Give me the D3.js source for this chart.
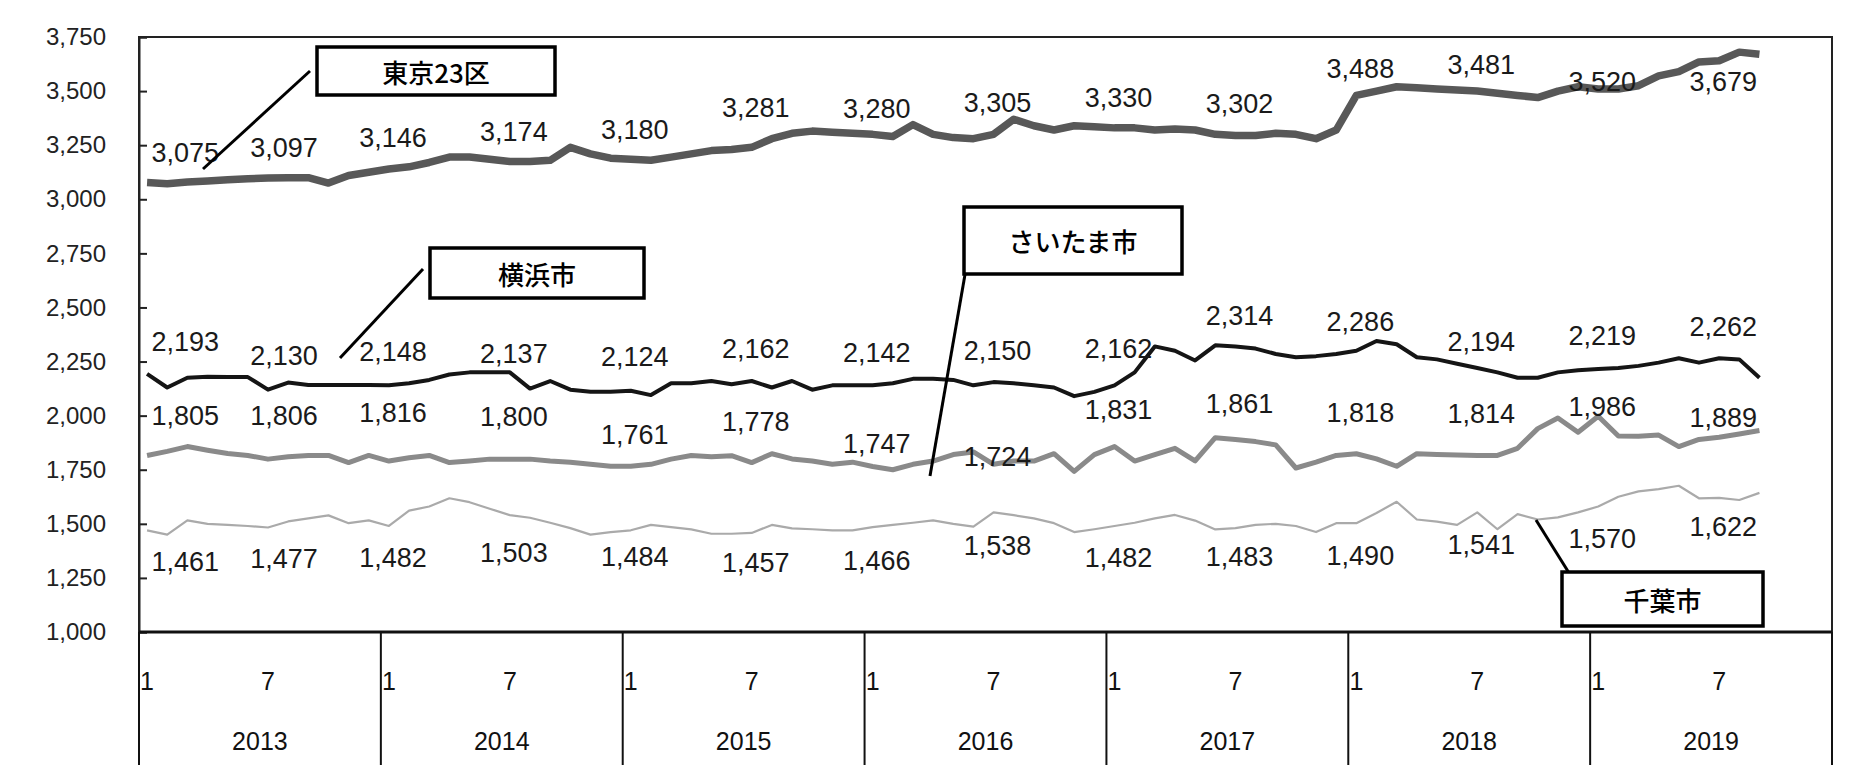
<!DOCTYPE html>
<html><head><meta charset="utf-8">
<script src="https://cdn.jsdelivr.net/npm/d3@7"></script>
<style>body{margin:0;background:#fff}svg{font-family:Arial,"Liberation Sans","Noto Sans CJK JP",sans-serif}</style>
</head><body><svg id="c" width="1853" height="782"></svg>
<script>
const years = ["2013","2014","2015","2016","2017","2018","2019"];
const monthTicks = ["1","7"];
const yTicks = [1000,1250,1500,1750,2000,2250,2500,2750,3000,3250,3500,3750];
const tokyo = [3077,3072,3080,3085,3090,3095,3098,3100,3100,3075,3110,3125,
 3140,3150,3170,3195,3195,3185,3175,3175,3180,3240,3210,3190,
 3185,3180,3195,3210,3225,3230,3240,3280,3305,3315,3310,3305,
 3300,3290,3345,3300,3285,3280,3300,3370,3340,3320,3340,3335,
 3330,3330,3320,3325,3320,3300,3295,3295,3305,3300,3280,3320,
 3480,3500,3520,3515,3510,3505,3500,3490,3480,3470,3500,3520,
 3510,3510,3525,3570,3590,3635,3640,3680,3670];
const yokohama = [2193,2130,2175,2180,2178,2178,2120,2153,2142,2142,2142,2142,
 2140,2150,2165,2190,2200,2200,2200,2125,2160,2120,2110,2110,
 2115,2095,2150,2150,2160,2145,2160,2130,2160,2120,2140,2140,
 2140,2150,2170,2170,2165,2140,2155,2150,2140,2130,2090,2110,
 2140,2200,2320,2300,2255,2325,2320,2310,2285,2270,2275,2285,
 2300,2345,2330,2270,2260,2240,2220,2200,2175,2175,2200,2210,
 2215,2220,2230,2245,2265,2245,2265,2260,2175];
const saitama = [1816,1835,1857,1840,1825,1816,1799,1810,1816,1816,1783,1816,
 1790,1805,1816,1783,1790,1799,1799,1799,1790,1785,1775,1766,
 1766,1775,1799,1816,1810,1815,1783,1824,1800,1790,1775,1785,
 1765,1750,1775,1790,1820,1832,1775,1790,1790,1824,1742,1820,
 1857,1790,1820,1849,1791,1898,1890,1880,1865,1758,1785,1816,
 1824,1800,1766,1824,1820,1818,1816,1816,1849,1940,1989,1923,
 1997,1906,1905,1910,1857,1890,1900,1915,1931];
const chiba = [1470,1450,1516,1500,1495,1490,1483,1511,1525,1539,1503,1516,
 1490,1561,1580,1618,1600,1570,1540,1528,1505,1480,1450,1462,
 1470,1495,1485,1474,1454,1454,1458,1495,1479,1475,1470,1470,
 1485,1495,1505,1516,1500,1487,1553,1540,1525,1503,1462,1475,
 1490,1505,1525,1541,1515,1474,1480,1495,1500,1490,1462,1503,
 1503,1550,1602,1520,1510,1495,1553,1475,1545,1520,1530,1553,
 1580,1625,1650,1660,1676,1618,1620,1610,1643];
const tokyoLabels = [3075,3097,3146,3174,3180,3281,3280,3305,3330,3302,3488,3481,3520,3679];
const yokohamaLabels = [2193,2130,2148,2137,2124,2162,2142,2150,2162,2314,2286,2194,2219,2262];
const saitamaLabels = [1805,1806,1816,1800,1761,1778,1747,1724,1831,1861,1818,1814,1986,1889];
const chibaLabels = [1461,1477,1482,1503,1484,1457,1466,1538,1482,1483,1490,1541,1570,1622];
const seriesNames = ["東京23区","横浜市","さいたま市","千葉市"];

const svg = d3.select("#c");
const L=139,R=1832,T=37,B=632,XB=765;
const x = d3.scaleLinear().domain([0,84]).range([L,R]);
const y = d3.scaleLinear().domain([1000,3750]).range([B,T]);
const fmt = d3.format(",");

svg.append("rect").attr("x",L).attr("y",T).attr("width",R-L).attr("height",B-T).attr("fill","none").attr("stroke","#222").attr("stroke-width",2);
const ya = svg.append("g").attr("transform",`translate(${L},0)`).call(d3.axisRight(y).tickValues(yTicks).tickSize(8).tickFormat(fmt));
ya.select(".domain").attr("stroke","#222").attr("stroke-width",2);
ya.selectAll("line").attr("stroke","#222").attr("stroke-width",2);
ya.selectAll("text").attr("x",-33).attr("text-anchor","end").attr("font-size",24).attr("fill","#222").attr("font-family","Arial, Liberation Sans");
svg.append("line").attr("x1",L).attr("x2",R).attr("y1",B).attr("y2",B).attr("stroke","#111").attr("stroke-width",3);
d3.range(years.length+1).forEach(k=>{
  svg.append("line").attr("x1",x(k*12)).attr("x2",x(k*12)).attr("y1",B).attr("y2",XB).attr("stroke","#111").attr("stroke-width",2);
});
years.forEach((yr,k)=>{
  monthTicks.forEach(m=>{
    svg.append("text").attr("x",x(k*12+(+m)-1+0.4)).attr("y",690).attr("text-anchor","middle").attr("font-size",25).attr("fill","#111").text(m);
  });
  svg.append("text").attr("x",x(k*12+6)).attr("y",750).attr("text-anchor","middle").attr("font-size",25).attr("fill","#111").text(yr);
});

const line = d3.line().x((d,i)=>x(i+0.4)).y(d=>y(d)).curve(d3.curveLinear);
const styles = [
  {data:chiba,c:"#aaa",w:2.2},
  {data:saitama,c:"#8a8a8a",w:5},
  {data:yokohama,c:"#151515",w:4},
  {data:tokyo,c:"#585858",w:7.5}];
styles.forEach(s=>svg.append("path").datum(s.data).attr("d",line).attr("fill","none").attr("stroke",s.c).attr("stroke-width",s.w).attr("stroke-linejoin","round"));

function labelPos(k){ return k===0 ? 2.3 : k===1 ? 7.2 : k*6+0.6; }
function labels(arr,off,special){
  arr.forEach((v,k)=>{
    const o = special && special[k]!==undefined ? special[k] : off;
    svg.append("text").attr("x",x(labelPos(k))).attr("y",y(v)+o).attr("text-anchor","middle")
      .attr("dominant-baseline","central").attr("font-size",27).attr("fill","#1a1a1a").text(fmt(v));
  });
}
labels(tokyoLabels,-30,{13:30,12:-5,10:-25});
labels(yokohamaLabels,-32,{});
labels(saitamaLabels,-42,{4:-32,6:-26,7:-18,12:-12,13:-22});
labels(chibaLabels,30,{});

const boxes = [
  {n:0,x:317,y:47,w:238,h:48,lx1:203,ly1:169,lx2:310,ly2:71},
  {n:1,x:430,y:248,w:214,h:50,lx1:340,ly1:358,lx2:423,ly2:269},
  {n:2,x:964,y:207,w:218,h:67,lx1:930,ly1:476,lx2:971,ly2:240},
  {n:3,x:1562,y:572,w:201,h:54,lx1:1536,ly1:520,lx2:1584,ly2:597}];
boxes.forEach(b=>{
  svg.append("line").attr("x1",b.lx1).attr("y1",b.ly1).attr("x2",b.lx2).attr("y2",b.ly2).attr("stroke","#000").attr("stroke-width",3);
  svg.append("rect").attr("x",b.x).attr("y",b.y).attr("width",b.w).attr("height",b.h).attr("fill","#fff").attr("stroke","#000").attr("stroke-width",3.5);
  svg.append("text").attr("x",b.x+b.w/2).attr("y",b.y+b.h/2).attr("text-anchor","middle").attr("dominant-baseline","central")
    .attr("font-size",26).attr("font-weight","500").attr("font-family","Noto Sans CJK JP").attr("fill","#000").text(seriesNames[b.n]);
});
</script></body></html>
